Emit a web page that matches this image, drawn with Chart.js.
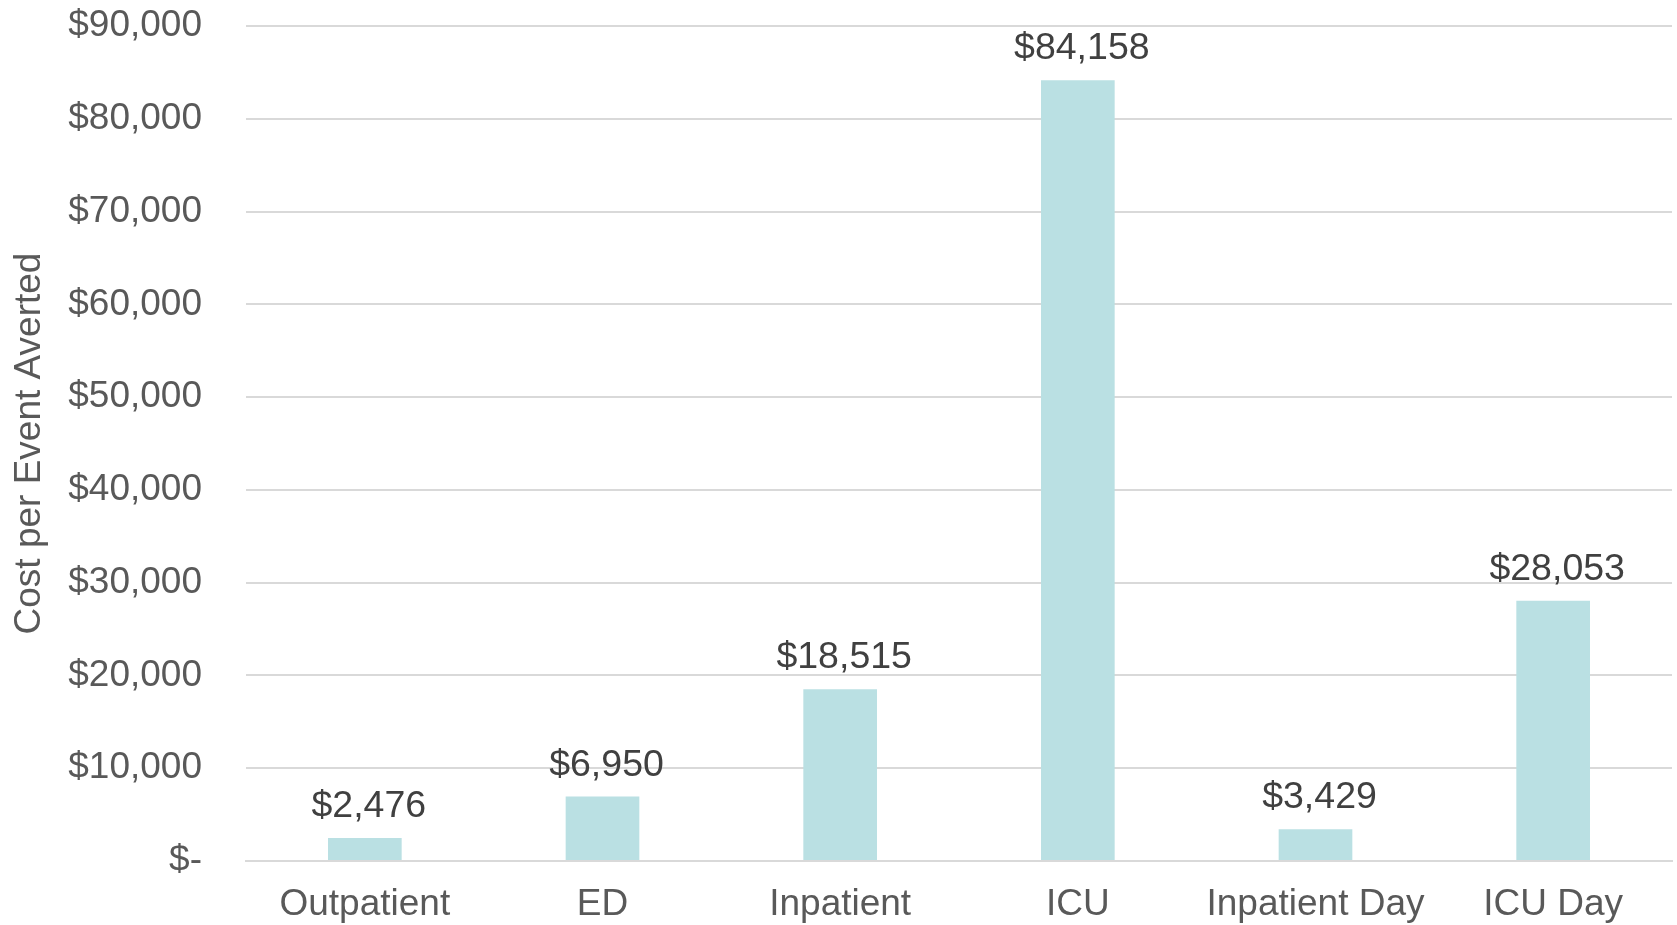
<!DOCTYPE html>
<html>
<head>
<meta charset="utf-8">
<script src="https://cdn.jsdelivr.net/npm/chart.js@4/dist/chart.umd.min.js"></script>
<style>
  html, body { margin: 0; padding: 0; background: #ffffff; }
  #wrap { width: 1677px; height: 925px; position: relative; }
</style>
</head>
<body>
<div id="wrap"><canvas id="c" width="1677" height="925"></canvas></div>
<script>
const categories = ["Outpatient", "ED", "Inpatient", "ICU", "Inpatient Day", "ICU Day"];
const costPerEventAverted = [2476, 6950, 18515, 84158, 3429, 28053];
const yTickMax = 90000;
const yTickStep = 10000;
const yAxisTitle = "Cost per Event Averted";

const FONT = "'Liberation Sans', Arial, sans-serif";
const fmt = v => v === 0 ? "$-" : "$" + v.toLocaleString("en-US");

const barLabels = {
  id: "barLabels",
  afterDatasetsDraw(chart) {
    const ctx = chart.ctx;
    const meta = chart.getDatasetMeta(0);
    ctx.save();
    ctx.font = "37.5px " + FONT;
    ctx.fillStyle = "#404040";
    ctx.textAlign = "center";
    ctx.textBaseline = "alphabetic";
    meta.data.forEach((bar, i) => {
      ctx.fillText(fmt(chart.data.datasets[0].data[i]), bar.x + 4, bar.y - 21);
    });
    ctx.restore();
  }
};

new Chart(document.getElementById("c"), {
  type: "bar",
  data: {
    labels: categories,
    datasets: [{
      data: costPerEventAverted,
      backgroundColor: "#bae0e3",
      borderWidth: 0,
      categoryPercentage: 1,
      barPercentage: 0.31
    }]
  },
  options: {
    responsive: false,
    animation: false,
    devicePixelRatio: 1,
    layout: { padding: { top: 26, left: 8, right: 5, bottom: 0 } },
    plugins: {
      legend: { display: false },
      tooltip: { enabled: false }
    },
    scales: {
      x: {
        grid: { display: false, drawTicks: false },
        border: { display: true, color: "#d9d9d9", width: 2 },
        ticks: { color: "#595959", font: { family: FONT, size: 37 }, padding: 22, maxRotation: 0, autoSkip: false },
        afterFit(scale) { scale.height = 64; }
      },
      y: {
        min: 0,
        max: yTickMax,
        grid: { color: "#d9d9d9", lineWidth: 2, drawTicks: true, tickLength: 44, tickColor: "rgba(0,0,0,0)" },
        border: { display: false },
        ticks: {
          stepSize: yTickStep,
          color: "#595959",
          font: { family: FONT, size: 37 },
          padding: 0,
          callback: v => fmt(v)
        },
        title: {
          display: true,
          text: yAxisTitle,
          color: "#595959",
          font: { family: FONT, size: 37 },
          padding: 0
        },
        afterFit(scale) { scale.width = 238; }
      }
    }
  },
  plugins: [barLabels]
});
</script>
</body>
</html>
